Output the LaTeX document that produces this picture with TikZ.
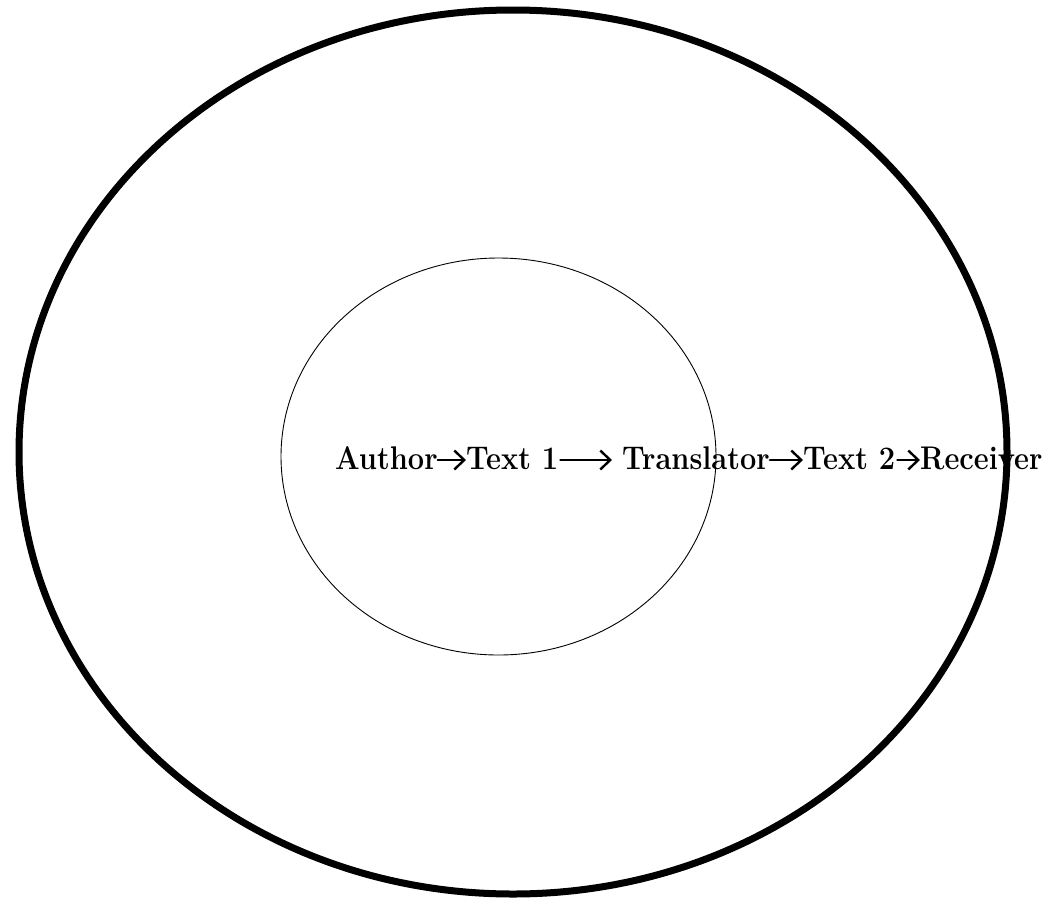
\documentclass[tikz,border=0pt]{standalone}
\usetikzlibrary{arrows.meta}
\newcommand{\tallword}[1]{\scalebox{1}[1.13]{#1}}
\begin{document}
\begin{tikzpicture}[x=1pt,y=-1pt,
  word/.style={inner sep=0pt, anchor=base west, font=\bfseries\fontsize{29}{34}\selectfont},
  flow/.style={line width=2.4pt, line cap=round, -{Straight Barb[length=10pt,width=19pt,line width=2.4pt]}}]
\useasboundingbox (0,0) rectangle (1057,897);
\draw[line width=7pt] (513,452) ellipse [x radius=494pt, y radius=442pt];
\draw[line width=0.9pt] (498.5,456.5) ellipse [x radius=217.5pt, y radius=198.5pt];
\node[word] (author) at (335,469) {\tallword{Author}};
\node[word] (text1) at (466,469) {\tallword{Text 1}};
\node[word] (translator) at (622,469) {\tallword{Translator}};
\node[word] (text2) at (803,469) {\tallword{Text 2}};
\node[word] (receiver) at (920,469) {\tallword{Receiver}};
\draw[flow] ([yshift=9pt]author.base east) -- ([yshift=9pt]text1.base west);
\draw[flow, shorten <=2pt, shorten >=10pt] ([yshift=9pt]text1.base east) -- ([yshift=9pt]translator.base west);
\draw[flow] ([yshift=9pt]translator.base east) -- ([yshift=9pt]text2.base west);
\draw[flow, shorten <=2pt] ([yshift=9pt]text2.base east) -- ([yshift=9pt]receiver.base west);
\end{tikzpicture}
\end{document}
